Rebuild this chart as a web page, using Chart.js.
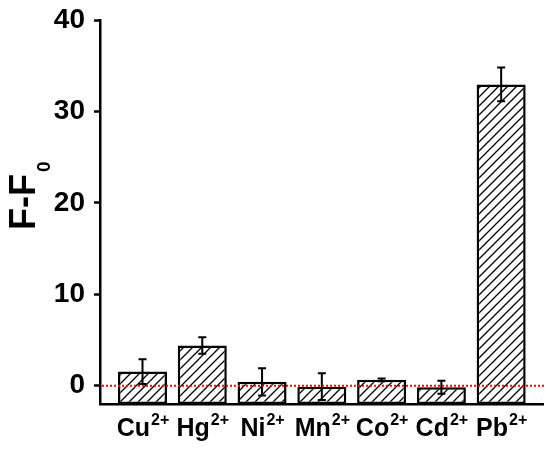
<!DOCTYPE html>
<html>
<head>
<meta charset="utf-8">
<script src="https://cdn.jsdelivr.net/npm/chart.js@4"></script>
<style>
  html, body { margin: 0; padding: 0; background: #fff; }
  #wrap { width: 550px; height: 452px; }
</style>
</head>
<body>
<div id="wrap"><canvas id="c" width="550" height="452"></canvas></div>
<script>
// ---- data ----
const ionSymbols = ['Cu', 'Hg', 'Ni', 'Mn', 'Co', 'Cd', 'Pb'];
const ionCharges = ['2+', '2+', '2+', '2+', '2+', '2+', '2+'];
const values = [1.55, 4.4, 0.42, -0.1, 0.65, -0.17, 32.95];
const errors = [1.35, 0.9, 1.5, 1.45, 0.15, 0.72, 1.85];
const yTicks = [0, 10, 20, 30, 40];
const yMin = -2;
const yMax = 40;
const yTitle = 'F-F';
const yTitleSub = '0';
const FONT = '"Liberation Sans", Arial, sans-serif';

function hatchPattern() {
  const s = 9;
  const p = document.createElement('canvas');
  p.width = s; p.height = s;
  const g = p.getContext('2d');
  g.fillStyle = '#fff';
  g.fillRect(0, 0, s, s);
  g.strokeStyle = '#000';
  g.lineWidth = 1.3;
  g.beginPath();
  g.moveTo(-1, s + 1); g.lineTo(s + 1, -1);
  g.moveTo(-1, 1); g.lineTo(1, -1);
  g.moveTo(s - 1, s + 1); g.lineTo(s + 1, s - 1);
  g.stroke();
  return document.getElementById('c').getContext('2d').createPattern(p, 'repeat');
}

const overlay = {
  id: 'overlay',
  afterDatasetsDraw(chart) {
    const ctx = chart.ctx;
    const xs = chart.scales.x, ys = chart.scales.y;
    // error bars
    ctx.save();
    ctx.strokeStyle = '#000';
    ctx.lineWidth = 2;
    values.forEach((v, i) => {
      const x = xs.getPixelForValue(i);
      const top = ys.getPixelForValue(v + errors[i]);
      const bot = ys.getPixelForValue(v - errors[i]);
      const cw = 4;
      ctx.beginPath();
      ctx.moveTo(x, top); ctx.lineTo(x, bot);
      ctx.moveTo(x - cw, top); ctx.lineTo(x + cw, top);
      ctx.moveTo(x - cw, bot); ctx.lineTo(x + cw, bot);
      ctx.stroke();
    });
    // red dotted zero line
    const y0 = ys.getPixelForValue(0);
    ctx.strokeStyle = '#ff0000';
    ctx.lineWidth = 2;
    ctx.setLineDash([2, 2]);
    ctx.beginPath();
    ctx.moveTo(chart.chartArea.left + 2, y0);
    ctx.lineTo(chart.chartArea.right + 2, y0);
    ctx.stroke();
    ctx.restore();
  },
  afterDraw(chart) {
    const ctx = chart.ctx;
    const xs = chart.scales.x;
    ctx.save();
    ctx.fillStyle = '#000';
    ctx.textBaseline = 'alphabetic';
    ctx.textAlign = 'left';
    const mainFont = 'bold 25px ' + FONT;
    const supFont = 'bold 16px ' + FONT;
    ionSymbols.forEach((sym, i) => {
      ctx.font = mainFont;
      const w1 = ctx.measureText(sym).width;
      ctx.font = supFont;
      const w2 = ctx.measureText(ionCharges[i]).width;
      const cx = xs.getPixelForValue(i);
      const x0 = cx - (w1 + w2) / 2;
      ctx.font = mainFont;
      ctx.fillText(sym, x0, 436);
      ctx.font = supFont;
      ctx.fillText(ionCharges[i], x0 + w1 + 1, 425);
    });
    // y title
    ctx.translate(35, 230);
    ctx.rotate(-Math.PI / 2);
    ctx.font = 'bold 36px ' + FONT;
    ctx.fillText(yTitle, 0, 0);
    const tw = ctx.measureText(yTitle).width;
    ctx.font = 'bold 19px ' + FONT;
    ctx.fillText(yTitleSub, tw + 2, 15);
    ctx.restore();
  }
};

const chart = new Chart(document.getElementById('c'), {
  type: 'bar',
  data: {
    datasets: [{
      data: values.map((v, i) => ({ x: i, y: v })),
      base: yMin,
      backgroundColor: hatchPattern(),
      borderColor: '#000',
      borderWidth: 2.5,
      borderSkipped: false,
      barPercentage: 0.82,
      categoryPercentage: 1
    }]
  },
  options: {
    responsive: false,
    animation: false,
    layout: { padding: { top: 20, right: 7, left: 0, bottom: 0 } },
    plugins: { legend: { display: false }, tooltip: { enabled: false } },
    scales: {
      x: {
        type: 'linear',
        offset: false,
        min: -0.711,
        max: 6.70,
        grid: { display: false, drawTicks: false },
        border: { display: true, color: '#000', width: 2.5 },
        ticks: { display: false },
        afterBuildTicks(s) { s.ticks = ionSymbols.map((_, i) => ({ value: i })); },
        afterFit(s) { s.height = 48; s.paddingLeft = 0; s.paddingRight = 0; }
      },
      y: {
        min: yMin,
        max: yMax,
        grid: { drawOnChartArea: false, drawTicks: true, tickLength: 6, tickColor: '#000', tickWidth: 2.5 },
        border: { display: true, color: '#000', width: 2.5 },
        ticks: {
          color: '#000',
          padding: 9,
          font: { family: FONT, size: 28, weight: 'bold' }
        },
        afterBuildTicks(s) { s.ticks = yTicks.map(v => ({ value: v })); },
        afterFit(s) { s.width = 100; s.paddingTop = 0; s.paddingBottom = 0; }
      }
    }
  },
  plugins: [overlay]
});
</script>
</body>
</html>
